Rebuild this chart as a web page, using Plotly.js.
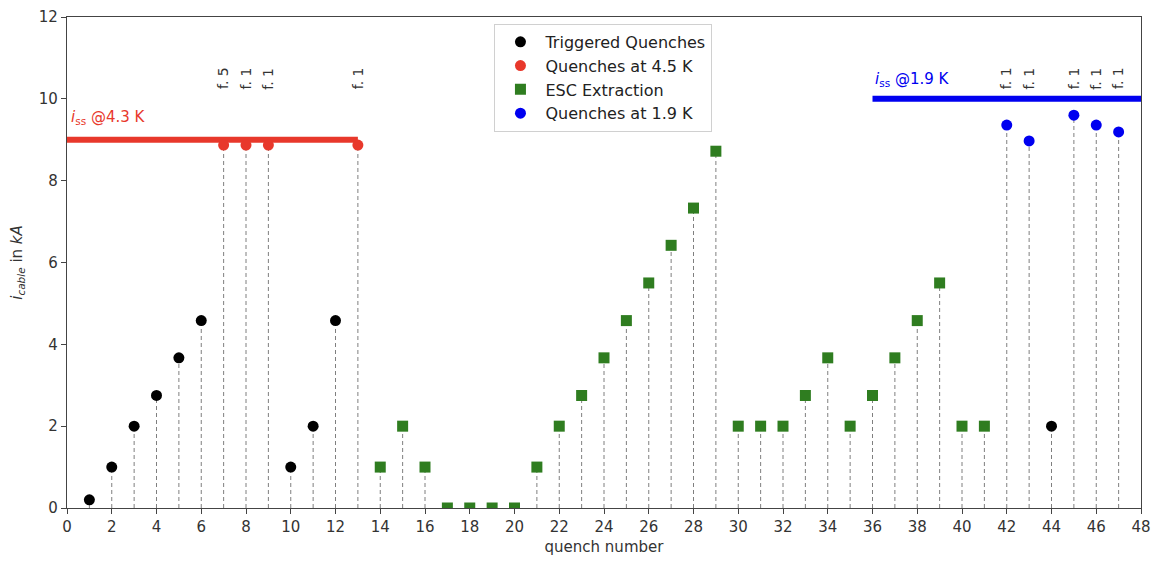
<!DOCTYPE html>
<html>
<head>
<meta charset="utf-8">
<script src="https://cdn.plot.ly/plotly-3.0.1.min.js"></script>
<style>html,body{margin:0;padding:0;background:#fff;}#chart{width:1154px;height:561px;}</style>
</head>
<body>
<div id="chart"></div>
<script>
// Data
const triggeredX = [1, 2, 3, 4, 5, 6, 10, 11, 12, 44];
const triggeredY = [0.2, 1, 2, 2.75, 3.67, 4.58, 1, 2, 4.58, 2];
const q45X = [7, 8, 9, 13];
const q45Y = [8.87, 8.87, 8.87, 8.87];
const escX = [14, 15, 16, 17, 18, 19, 20, 21, 22, 23, 24, 25, 26, 27, 28, 29, 30, 31, 32, 33, 34, 35, 36, 37, 38, 39, 40, 41];
const escY = [1, 2, 1, 0, 0, 0, 0, 1, 2, 2.75, 3.67, 4.58, 5.5, 6.42, 7.33, 8.72, 2, 2, 2, 2.75, 3.67, 2, 2.75, 3.67, 4.58, 5.5, 2, 2];
const q19X = [42, 43, 45, 46, 47];
const q19Y = [9.36, 8.97, 9.6, 9.36, 9.19];
const issLowX = [0, 13];
const issLowY = [9, 9];
const issHighX = [36, 48];
const issHighY = [10, 10];
const trainX = [7, 8, 9, 13, 42, 43, 45, 46, 47];
const trainLabels = ["f. 5", "f. 1", "f. 1", "f. 1", "f. 1", "f. 1", "f. 1", "f. 1", "f. 1"];
const xTicks = [0, 2, 4, 6, 8, 10, 12, 14, 16, 18, 20, 22, 24, 26, 28, 30, 32, 34, 36, 38, 40, 42, 44, 46, 48];
const yTicks = [0, 2, 4, 6, 8, 10, 12];

const RED = '#e8382b', GREEN = '#2f7d20', BLUE = '#0000f0', BLACK = '#000000';

// Build stems from all series
const allX = [].concat(triggeredX, q45X, escX, q19X);
const allY = [].concat(triggeredY, q45Y, escY, q19Y);
const stemX = [], stemY = [];
allX.forEach((x, i) => { stemX.push(x, x, null); stemY.push(0, allY[i], null); });

const traces = [
  {x: stemX, y: stemY, mode: 'lines', line: {color: '#7f7f7f', width: 1, dash: '4px,3px'}, showlegend: false, hoverinfo: 'skip'},
  {x: issLowX, y: issLowY, mode: 'lines', line: {color: RED, width: 6}, showlegend: false},
  {x: issHighX, y: issHighY, mode: 'lines', line: {color: BLUE, width: 6}, showlegend: false},
  {x: triggeredX, y: triggeredY, mode: 'markers', name: 'Triggered Quenches', marker: {color: BLACK, size: 11, symbol: 'circle'}},
  {x: q45X, y: q45Y, mode: 'markers', name: 'Quenches at 4.5 K', marker: {color: RED, size: 11, symbol: 'circle'}},
  {x: escX, y: escY, mode: 'markers', name: 'ESC Extraction', marker: {color: GREEN, size: 11, symbol: 'square'}},
  {x: q19X, y: q19Y, mode: 'markers', name: 'Quenches at 1.9 K', marker: {color: BLUE, size: 11, symbol: 'circle'}}
];

const annotations = trainX.map((x, i) => ({
  x: x, y: 10.5, xref: 'x', yref: 'y', text: trainLabels[i], textangle: -90,
  showarrow: false, font: {size: 14, color: '#333'}, xanchor: 'center', yanchor: 'middle'
}));
annotations.push({x: 0.1, y: 9.55, xref: 'x', yref: 'y', text: '<i>i</i><sub>ss</sub> @4.3 K', showarrow: false,
  xanchor: 'left', yanchor: 'middle', font: {size: 15, color: RED}});
annotations.push({x: 36, y: 10.48, xref: 'x', yref: 'y', text: '<i>i</i><sub>ss</sub> @1.9 K', showarrow: false,
  xanchor: 'left', yanchor: 'middle', font: {size: 15, color: BLUE}});

const layout = {
  width: 1154, height: 561,
  margin: {l: 67, r: 13, t: 17, b: 53},
  paper_bgcolor: '#fff', plot_bgcolor: '#fff',
  font: {family: 'DejaVu Sans, sans-serif', size: 15, color: '#333'},
  xaxis: {range: [0, 48], tickvals: xTicks, ticktext: xTicks.map(String), showgrid: false, zeroline: false,
    showline: true, mirror: true, linecolor: '#444', linewidth: 1.2, ticks: 'outside', ticklen: 5, tickcolor: '#444',
    tickfont: {size: 15, color: '#333'},
    title: {text: 'quench number', font: {size: 15, color: '#333'}, standoff: 6}},
  yaxis: {range: [0, 12], tickvals: yTicks, ticktext: yTicks.map(String), showgrid: false, zeroline: false,
    showline: true, mirror: true, linecolor: '#444', linewidth: 1.2, ticks: 'outside', ticklen: 5, tickcolor: '#444',
    tickfont: {size: 15, color: '#333'},
    title: {text: '<i>i</i><sub><i>cable</i></sub> in <i>kA</i>', font: {size: 15, color: '#333'}, standoff: 12}},
  legend: {x: 0.398, y: 0.986, xanchor: 'left', yanchor: 'top', bgcolor: 'rgba(255,255,255,0.9)',
    bordercolor: '#d0d0d0', borderwidth: 1, font: {size: 16, color: '#222'}, tracegroupgap: 0, itemwidth: 40},
  annotations: annotations,
  showlegend: true
};

Plotly.newPlot('chart', traces, layout, {staticPlot: true, displayModeBar: false});
</script>
</body>
</html>
